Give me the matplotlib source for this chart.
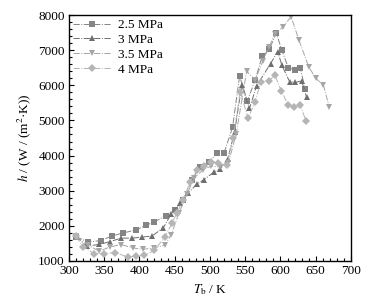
import matplotlib
matplotlib.use("Agg")
import matplotlib.pyplot as plt
from matplotlib.ticker import MultipleLocator

plt.rcParams['font.family'] = ['Liberation Serif', 'DejaVu Serif']
plt.rcParams['mathtext.fontset'] = 'stix'

labels = ['2.5 MPa', '3 MPa', '3.5 MPa', '4 MPa']

t_25 = [310, 327, 345, 361, 377, 395, 409, 421, 437, 450, 462, 474, 486, 499, 510, 520, 532, 542, 553, 564, 574, 584, 594, 602, 611, 620, 628, 635]
h_25 = [1690, 1540, 1580, 1710, 1800, 1880, 2015, 2110, 2290, 2450, 2740, 3300, 3680, 3830, 4060, 4080, 4800, 6265, 5550, 6150, 6820, 7020, 7480, 7000, 6500, 6440, 6500, 5890]

t_3 = [310, 325, 343, 358, 374, 390, 404, 418, 434, 445, 457, 469, 481, 491, 505, 514, 525, 535, 545, 556, 566, 586, 596, 602, 613, 621, 630, 637]
h_3 = [1700, 1420, 1470, 1550, 1650, 1650, 1680, 1710, 1950, 2340, 2650, 2930, 3180, 3310, 3520, 3610, 3890, 4680, 6000, 5340, 5980, 6620, 6960, 6570, 6100, 6080, 6130, 5660]

t_35 = [310, 327, 343, 358, 374, 391, 405, 420, 436, 445, 456, 467, 478, 490, 502, 514, 526, 537, 552, 564, 575, 584, 592, 603, 615, 626, 640, 650, 661, 669]
h_35 = [1700, 1450, 1275, 1400, 1465, 1370, 1330, 1370, 1450, 1750, 2360, 2900, 3350, 3600, 3700, 3680, 3780, 4600, 6400, 6150, 6700, 7100, 7460, 7650, 7950, 7300, 6530, 6200, 6000, 5390]

t_4 = [310, 320, 336, 350, 365, 383, 395, 407, 421, 436, 446, 453, 462, 472, 481, 491, 501, 512, 524, 533, 543, 554, 564, 572, 584, 592, 601, 611, 619, 628, 636]
h_4 = [1700, 1400, 1210, 1210, 1240, 1115, 1135, 1160, 1300, 1680, 2070, 2360, 2740, 3260, 3590, 3700, 3820, 3780, 3730, 4500, 5820, 5060, 5530, 6100, 6130, 6290, 5850, 5440, 5390, 5440, 4990]

series = [(t_25, h_25), (t_3, h_3), (t_35, h_35), (t_4, h_4)]
colors = ['#858585', '#6e6e6e', '#a5a5a5', '#b5b5b5']
markers = ['s', '^', 'v', 'D']
msizes = [4, 4, 4, 3.6]

fig = plt.figure(figsize=(3.70, 3.07), dpi=100)
ax = fig.add_axes([0.1865, 0.150, 0.7621, 0.801])

for (t, h), c, m, ms, lab in zip(series, colors, markers, msizes, labels):
    ax.plot(t, h, linestyle='-.', color=c, marker=m, markersize=ms,
            markeredgewidth=0, linewidth=0.7, label=lab)

ax.set_xlim(300, 700)
ax.set_ylim(1000, 8000)
ax.xaxis.set_major_locator(MultipleLocator(50))
ax.xaxis.set_minor_locator(MultipleLocator(10))
ax.yaxis.set_major_locator(MultipleLocator(1000))
ax.yaxis.set_minor_locator(MultipleLocator(200))
ax.tick_params(which='both', direction='in', top=False, right=False, labelsize=9.5, pad=3, width=0.8)
ax.tick_params(which='major', length=3.5)
ax.tick_params(which='minor', length=2)
for s in ax.spines.values():
    s.set_linewidth(1.0)

ax.set_xlabel('$T_\\mathrm{b}$ / K', fontsize=9.5, labelpad=4)
ax.set_ylabel('$h$ / (W / (m$^2$·K))', fontsize=9.5, labelpad=4)

ax.legend(loc='upper left', frameon=False, fontsize=9.5, handlelength=2.9,
          labelspacing=0.2, borderaxespad=0.1, handletextpad=0.5,
          borderpad=0.2)

fig.savefig('out.png', dpi=100)
